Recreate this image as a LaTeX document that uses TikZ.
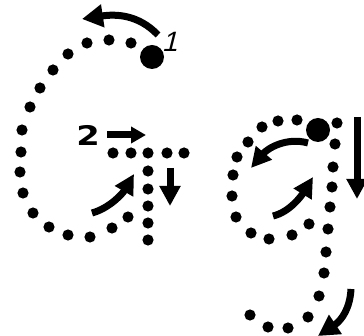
\documentclass[tikz,border=0pt]{standalone}
\usepackage{fontspec}
\newfontfamily\labelfont{DejaVu Sans}
\newfontfamily\onefont{Liberation Sans}
\usetikzlibrary{arrows.meta}
\tikzset{
  sdot/.style={fill=black},
  arr/.style={line width=7pt, -{Triangle[width=20pt,length=20pt]}},
  bigarr/.style={line width=7pt, -{Triangle[width=22pt,length=21pt]}},
  sarr/.style={line width=7pt, -{Triangle[width=16pt,length=15pt]}},
}
\begin{document}
\begin{tikzpicture}[x=1pt,y=-1pt]
\useasboundingbox (0,0) rectangle (364,336);
% left G
\fill (152,57) circle (12pt);
\foreach \p in {(131,43),(109,40),(87,43),(68,54),(53,70),(40,88),(30,107),(22,130),(21,152),(20,172),(23,193),(33,213),(49,227),(68,235),(90,237),(112,228),(128,217),
  (113,153),(131,153),(148,153),(167,153),(184,153),
  (148,171),(148,189),(148,206),(148,223),(148,240)}
  \fill[sdot] \p circle (5.6pt);
\node[font=\onefont\fontsize{28}{28}\selectfont, xslant=0.25] (one) at (172,42) {1};
\node[font=\labelfont\bfseries\fontsize{27}{27}\selectfont, xscale=1.25, inner sep=0pt] (two) at (88,135) {2};
\coordinate (a1s) at (158,35);
\coordinate (a1e) at (82,19);
\draw[bigarr] (a1s) .. controls (138,14) and (115,14) .. (a1e);
\coordinate (a2s) at (107,135);
\coordinate (a2e) at (146,135);
\draw[sarr] (a2s) -- (a2e);
\coordinate (a3s) at (170,168);
\coordinate (a3e) at (170,206);
\draw[arr] (a3s) -- (a3e);
\coordinate (a4s) at (92,213);
\coordinate (a4e) at (134,174);
\draw[arr] (a4s) .. controls (110,208) and (123,193) .. (a4e);
% right g
\fill (318,130) circle (12pt);
\foreach \p in {(297,120),(278,121),(262,127),(248,142),(237,157),(233,175),(232,196),(236,217),(251,233),(269,239),(292,235),(309,224),
  (337,123),(335,144),(333,167),(332,187),(330,207),(328,229),(326,252),(324,273),(319,296),(308,317),(288,328),(268,327),(250,315)}
  \fill[sdot] \p circle (5.6pt);
\coordinate (b1s) at (308,143);
\coordinate (b1e) at (251,168);
\draw[arr] (b1s) .. controls (287,137) and (268,148) .. (b1e);
\coordinate (b2s) at (273,216);
\coordinate (b2e) at (313,177);
\draw[arr] (b2s) .. controls (290,212) and (302,195) .. (b2e);
\coordinate (b3s) at (357,117);
\coordinate (b3e) at (357,199);
\draw[arr] (b3s) -- (b3e);
\coordinate (b4s) at (351,289);
\coordinate (b4e) at (318,336);
\draw[bigarr] (b4s) .. controls (350,308) and (342,320) .. (b4e);
\end{tikzpicture}
\end{document}
